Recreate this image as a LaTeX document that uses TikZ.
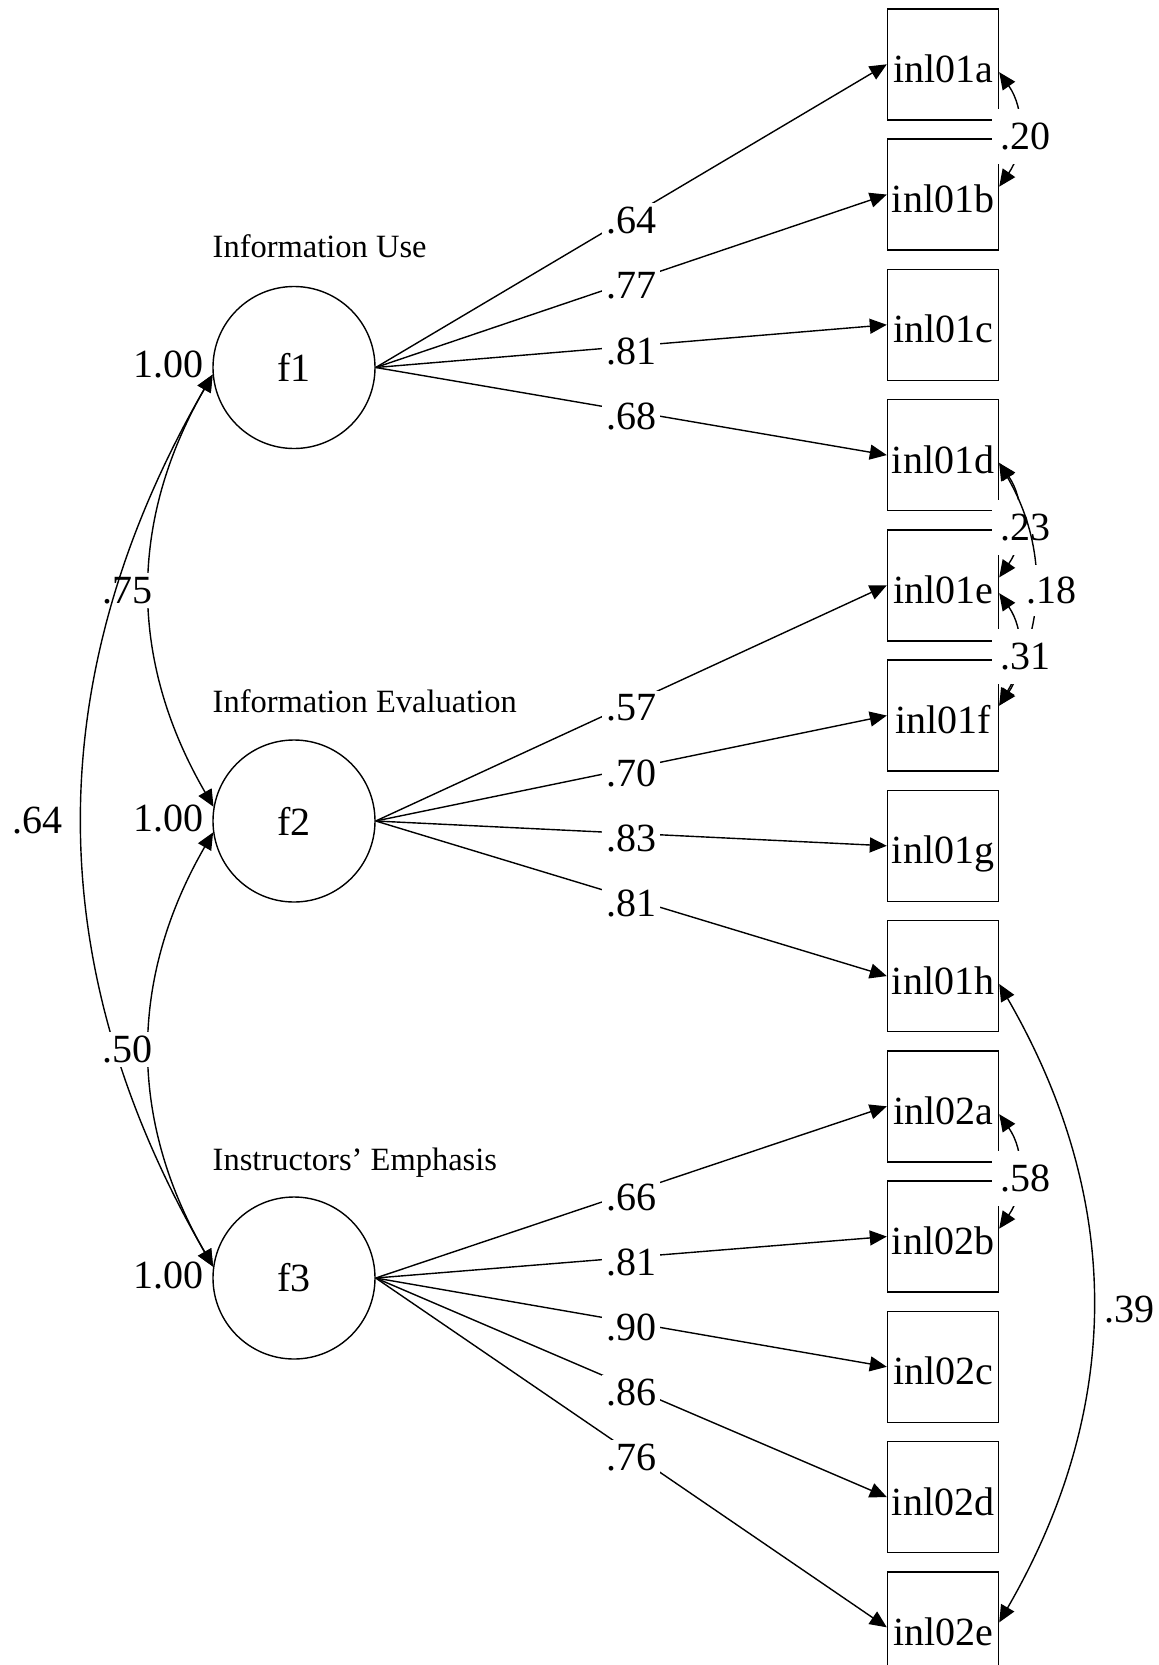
\documentclass[tikz,border=0pt]{standalone}
\usepackage{fontspec}
\setmainfont{Liberation Serif}
\usetikzlibrary{arrows.meta}
\tikzset{
  txt/.style = {font=\fontsize{40}{42}\selectfont, inner sep=0pt},
  num/.style = {txt, fill=white, inner sep=4pt},
  load/.style = {num, yshift=-5pt},
  res/.style = {num, inner xsep=8pt, inner ysep=14pt, xshift=7pt, yshift=-7pt},
  fac/.style = {draw, circle, minimum size=162pt, txt},
  ind/.style = {draw, minimum width=111pt, minimum height=111pt, txt, text height=36pt, text depth=0pt},
  ttl/.style = {font=\fontsize{32.5}{34}\selectfont, inner sep=0pt, anchor=base west}
}

\begin{document}
\begin{tikzpicture}[x=1pt, y=1pt, line width=1.4pt, >={Triangle[length=17pt, width=15pt]}]
  \useasboundingbox (0,0) rectangle (1159,-1665);

  \path (294,-367.5) node[fac] (f1) {f1}
      ++(0,-453.5) node[fac] (f2) {f2}
      ++(0,-457) node[fac] (f3) {f3};
  \path (212,-257) node[ttl] (t1) {Information Use}
        (212,-712) node[ttl] (t2) {Information Evaluation}
        (212,-1170) node[ttl] (t3) {Instructors' Emphasis};

  \path (943,-64.3) node[ind] (i1a) {inl01a}
      ++(0,-130.25) node[ind] (i1b) {inl01b}
      ++(0,-130.25) node[ind] (i1c) {inl01c}
      ++(0,-130.25) node[ind] (i1d) {inl01d}
      ++(0,-130.25) node[ind] (i1e) {inl01e}
      ++(0,-130.25) node[ind] (i1f) {inl01f}
      ++(0,-130.25) node[ind] (i1g) {inl01g}
      ++(0,-130.25) node[ind] (i1h) {inl01h}
      ++(0,-130.25) node[ind] (i2a) {inl02a}
      ++(0,-130.25) node[ind] (i2b) {inl02b}
      ++(0,-130.25) node[ind] (i2c) {inl02c}
      ++(0,-130.25) node[ind] (i2d) {inl02d}
      ++(0,-130.25) node[ind] (i2e) {inl02e};

  \node[txt, anchor=east] (v1) at ([xshift=-8pt, yshift=3pt]f1.west) {1.00};
  \node[txt, anchor=east] (v2) at ([xshift=-8pt, yshift=3pt]f2.west) {1.00};
  \node[txt, anchor=east] (v3) at ([xshift=-8pt, yshift=3pt]f3.west) {1.00};

  \draw[->] (f1.east) -- node[load] (l1a) {.64} (i1a.west);
  \draw[->] (f1.east) -- node[load] (l1b) {.77} (i1b.west);
  \draw[->] (f1.east) -- node[load] (l1c) {.81} (i1c.west);
  \draw[->] (f1.east) -- node[load] (l1d) {.68} (i1d.west);
  \draw[->] (f2.east) -- node[load] (l1e) {.57} (i1e.west);
  \draw[->] (f2.east) -- node[load] (l1f) {.70} (i1f.west);
  \draw[->] (f2.east) -- node[load] (l1g) {.83} (i1g.west);
  \draw[->] (f2.east) -- node[load] (l1h) {.81} (i1h.west);
  \draw[->] (f3.east) -- node[load] (l2a) {.66} (i2a.west);
  \draw[->] (f3.east) -- node[load] (l2b) {.81} (i2b.west);
  \draw[->] (f3.east) -- node[load] (l2c) {.90} (i2c.west);
  \draw[->] (f3.east) -- node[load] (l2d) {.86} (i2d.west);
  \draw[->] (f3.east) -- node[load] (l2e) {.76} (i2e.west);

  \draw[<->] (f1.185) to[bend right=30] node[num, inner xsep=6pt, xshift=-22pt] (c12) {.75} (f2.170);
  \draw[<->] (f1.185) to[bend right=30] node[txt, xshift=-45pt] (c13) {.64} (f3.172);
  \draw[<->] (f2.188) to[bend right=30] node[num, inner xsep=6pt, xshift=-22pt] (c23) {.50} (f3.172);

  \draw[<->] (i1a.-8) to[bend left=35] node[res] (r1) {.20} (i1b.8);
  \draw[<->] (i1d.-8) to[bend left=35] node[res] (r2) {.23} (i1e.8);
  \draw[<->] (i1d.-8) to[bend left=30] node[num, inner ysep=12pt, xshift=17pt, yshift=-6pt] (r3) {.18} (i1f.10);
  \draw[<->] (i1e.-8) to[bend left=35] node[res] (r4) {.31} (i1f.10);
  \draw[<->] (i2a.-8) to[bend left=35] node[res] (r5) {.58} (i2b.8);
  \draw[<->] (i1h.-8) to[bend left=30] node[txt, xshift=37pt, yshift=-6pt] (r6) {.39} (i2e.5);
\end{tikzpicture}
\end{document}
